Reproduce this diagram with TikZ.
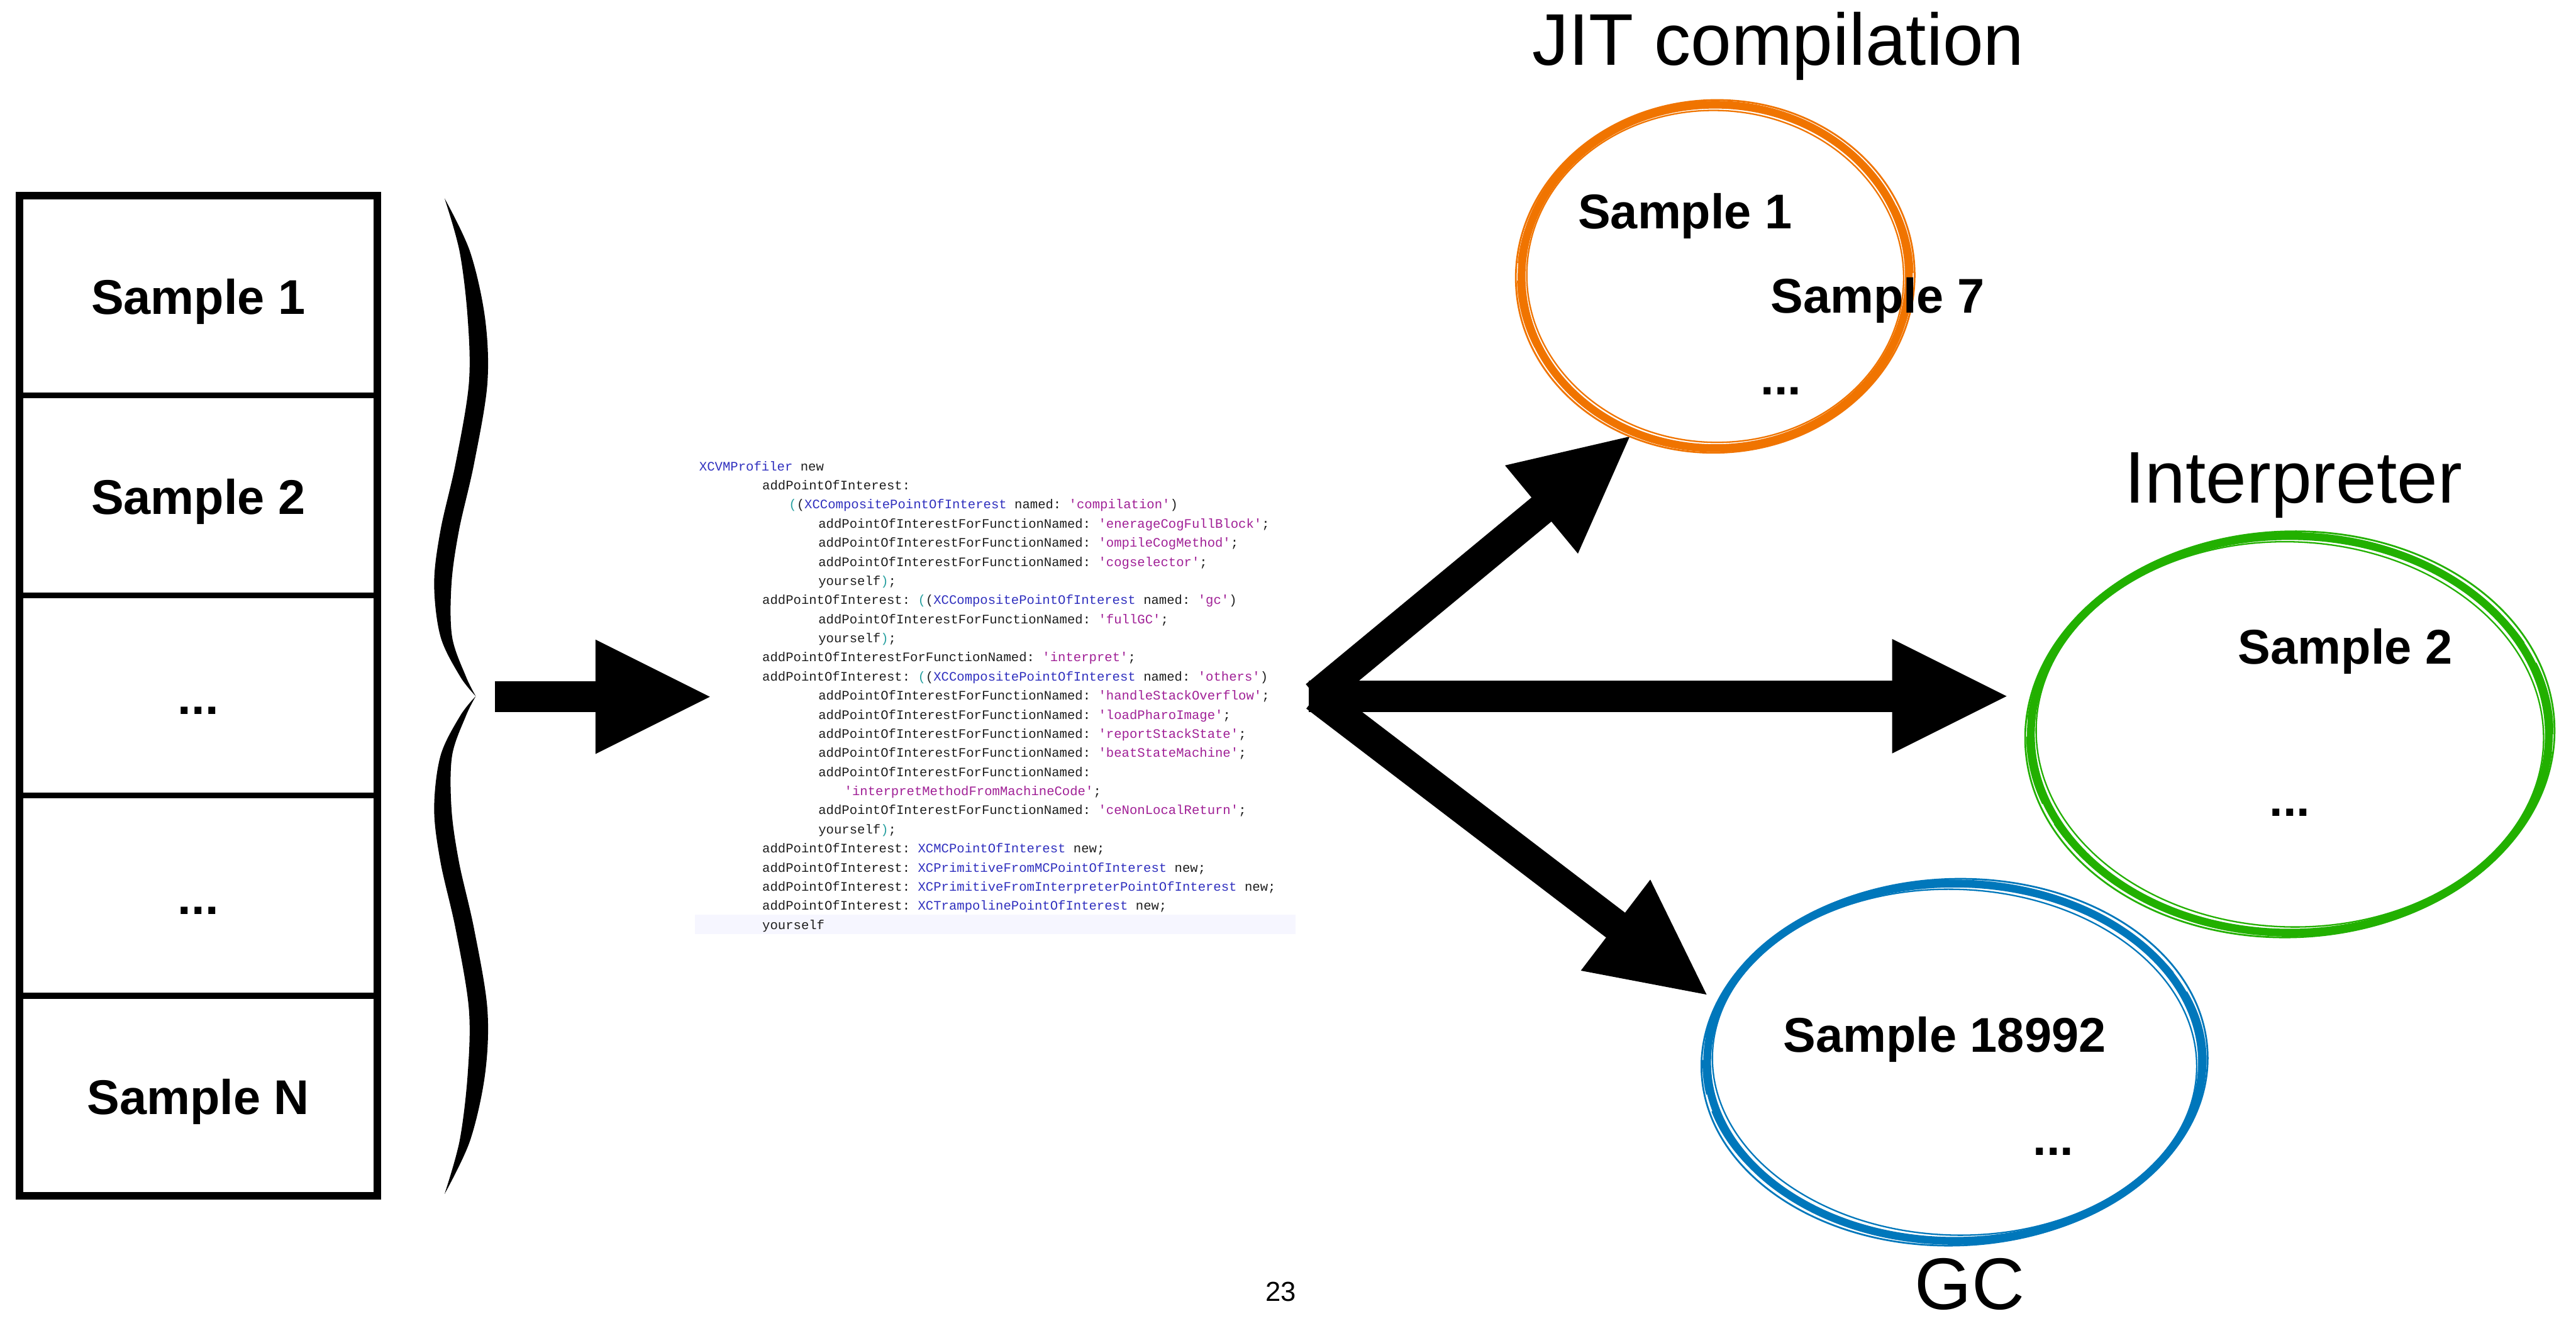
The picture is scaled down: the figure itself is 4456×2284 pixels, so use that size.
\documentclass[tikz,border=0pt]{standalone}
\usepackage{fontspec}
\setmainfont{Liberation Sans}
\setmonofont{Liberation Mono}
\usetikzlibrary{calc}
\definecolor{jitc}{RGB}{240,116,0}
\definecolor{intc}{RGB}{34,176,0}
\definecolor{gcc}{RGB}{0,119,187}
\definecolor{cblue}{RGB}{48,48,190}
\definecolor{cmag}{RGB}{160,32,150}
\definecolor{cteal}{RGB}{40,160,160}
\definecolor{ctext}{RGB}{30,30,30}
\definecolor{hlband}{RGB}{246,246,255}
\newcommand\cls[1]{\textcolor{cblue}{#1}}
\newcommand\cstr[1]{\textcolor{cmag}{#1}}
\newcommand\cpar[1]{\textcolor{cteal}{#1}}
\newcommand\brushell[4]{%
  \draw[#4, line width=1.35mm] (#1) ellipse [x radius=#2mm, y radius=#3mm];
  \draw[#4, line width=0.3mm, rotate around={2:(#1)}] (#1) ellipse [x radius=#2mm+1.0mm, y radius=#3mm+0.8mm];
  \draw[#4, line width=0.25mm, rotate around={-2:(#1)}] (#1) ellipse [x radius=#2mm-0.9mm, y radius=#3mm-1.0mm];
  \draw[#4, line width=0.4mm, dash pattern=on 12mm off 4mm on 6mm off 3mm, rotate around={1:(#1)}] (#1) ellipse [x radius=#2mm+0.6mm, y radius=#3mm-0.3mm];
}
\newcommand\fatarrow[2]{%
  \path ($(#2)!19.8mm!(#1)$) coordinate (hb);
  \path ($(#2)!19.5mm!(#1)$) coordinate (hs);
  \draw[shaft] (#1) -- (hs);
  \fill (#2) -- ($(hb)!9.9mm!90:(#2)$) -- ($(hb)!9.9mm!-90:(#2)$) -- cycle;
}
\begin{document}
\begin{tikzpicture}[x=0.1mm, y=-0.1mm,
  cell/.style={draw, line width=1mm, minimum width=61.85mm, minimum height=34.6mm,
    inner sep=0, outer sep=0, text height=6.4mm, text depth=0mm,
    font=\bfseries\fontsize{24}{28}\selectfont},
  smp/.style={inner sep=0, anchor=base west, font=\bfseries\fontsize{24}{28}\selectfont},
  ttl/.style={inner sep=0, anchor=base, font=\fontsize{36}{40}\selectfont},
  code/.style={inner sep=0, anchor=base west, font=\ttfamily\fontsize{6.38}{7.5}\selectfont, text=ctext},
  shaft/.style={line width=5.4mm}]
\useasboundingbox (0,0) rectangle (4456,2284);

% ---- sample stack ----
\node[cell] (r1) at (343,511) {Sample 1};
\node[cell] (r2) at (343,857) {Sample 2};
\node[cell] (r3) at (343,1203) {...};
\node[cell] (r4) at (343,1549) {...};
\node[cell] (r5) at (343,1895) {Sample N};
\draw[line width=1.3mm] (r1.north west) rectangle (r5.south east);

% ---- brace ----
\coordinate (brace) at (821,1204);
\fill plot[smooth, tension=0.55] coordinates {(769,343) (813,435) (839,550) (843,664) (820,802) (794,917) (781,1009) (782,1101) (806,1170) (823,1204)}
 -- plot[smooth, tension=0.55] coordinates {(823,1204) (806,1238) (782,1307) (781,1399) (794,1491) (820,1606) (843,1744) (839,1858) (813,1973) (769,2065)}
 -- plot[smooth, tension=0.55] coordinates {(769,2065) (795,1973) (809,1858) (811,1744) (788,1606) (762,1491) (751,1399) (762,1307) (796,1238) (823,1204)}
 -- plot[smooth, tension=0.55] coordinates {(823,1204) (796,1170) (762,1101) (751,1009) (762,917) (788,802) (811,664) (809,550) (795,435) (769,343)} -- cycle;

% ---- left arrow ----
\coordinate (la0) at (856,1205);
\coordinate (la1) at (1228,1205);
\fatarrow{la0}{la1}

% ---- code block ----
\fill[hlband] (1202,1582) rectangle (2241,1615);
\node[code] (c1) at (1209,814) {\cls{XCVMProfiler} new};
\node[code] (c2) at (1318,847.04) {addPointOfInterest:};
\node[code] (c3) at (1364,880.08) {\cpar{(}(\cls{XCCompositePointOfInterest} named: \cstr{'compilation'})};
\node[code] (c4) at (1415,913.12) {addPointOfInterestForFunctionNamed: \cstr{'enerageCogFullBlock'};};
\node[code] (c5) at (1415,946.16) {addPointOfInterestForFunctionNamed: \cstr{'ompileCogMethod'};};
\node[code] (c6) at (1415,979.2) {addPointOfInterestForFunctionNamed: \cstr{'cogselector'};};
\node[code] (c7) at (1415,1012.24) {yourself\cpar{)};};
\node[code] (c8) at (1318,1045.28) {addPointOfInterest: \cpar{(}(\cls{XCCompositePointOfInterest} named: \cstr{'gc'})};
\node[code] (c9) at (1415,1078.32) {addPointOfInterestForFunctionNamed: \cstr{'fullGC'};};
\node[code] (c10) at (1415,1111.36) {yourself\cpar{)};};
\node[code] (c11) at (1318,1144.4) {addPointOfInterestForFunctionNamed: \cstr{'interpret'};};
\node[code] (c12) at (1318,1177.44) {addPointOfInterest: \cpar{(}(\cls{XCCompositePointOfInterest} named: \cstr{'others'})};
\node[code] (c13) at (1415,1210.48) {addPointOfInterestForFunctionNamed: \cstr{'handleStackOverflow'};};
\node[code] (c14) at (1415,1243.52) {addPointOfInterestForFunctionNamed: \cstr{'loadPharoImage'};};
\node[code] (c15) at (1415,1276.56) {addPointOfInterestForFunctionNamed: \cstr{'reportStackState'};};
\node[code] (c16) at (1415,1309.6) {addPointOfInterestForFunctionNamed: \cstr{'beatStateMachine'};};
\node[code] (c17) at (1415,1342.64) {addPointOfInterestForFunctionNamed:};
\node[code] (c18) at (1460,1375.68) {\cstr{'interpretMethodFromMachineCode'};};
\node[code] (c19) at (1415,1408.72) {addPointOfInterestForFunctionNamed: \cstr{'ceNonLocalReturn'};};
\node[code] (c20) at (1415,1441.76) {yourself\cpar{)};};
\node[code] (c21) at (1318,1474.8) {addPointOfInterest: \cls{XCMCPointOfInterest} new;};
\node[code] (c22) at (1318,1507.84) {addPointOfInterest: \cls{XCPrimitiveFromMCPointOfInterest} new;};
\node[code] (c23) at (1318,1540.88) {addPointOfInterest: \cls{XCPrimitiveFromInterpreterPointOfInterest} new;};
\node[code] (c24) at (1318,1573.92) {addPointOfInterest: \cls{XCTrampolinePointOfInterest} new;};
\node[code] (c25) at (1318,1606.96) {yourself};

% ---- fork arrows ----
\coordinate (fork) at (2276,1204);
\coordinate (forkH) at (2264,1204);
\coordinate (tipJ) at (2819,755);
\coordinate (tipI) at (3471,1204);
\coordinate (tipG) at (2952,1720);
\fatarrow{fork}{tipJ}
\fatarrow{forkH}{tipI}
\fatarrow{fork}{tipG}

% ---- categories ----
\coordinate (jit) at (2967,478);
\coordinate (int) at (3961,1270);
\coordinate (gc) at (3381,1837);
\brushell{jit}{33.5}{29.7}{jitc}
\brushell{int}{44.8}{34.3}{intc}
\brushell{gc}{42.8}{30.9}{gcc}

\node[ttl] (tJ) at (3076,113) {JIT compilation};
\node[ttl] (tI) at (3967,870) {Interpreter};
\node[ttl] (tG) at (3407,2264) {GC};

\node[smp] (j1) at (2729,395) {Sample 1};
\node[smp] (j2) at (3062,541) {Sample 7};
\node[smp] (j3) at (3045,683) {...};
\node[smp] (i1) at (3871,1148) {Sample 2};
\node[smp] (i2) at (3925,1412) {...};
\node[smp] (g1) at (3084,1819) {Sample 18992};
\node[smp] (g2) at (3516,1998) {...};

\node[inner sep=0, anchor=base, font=\fontsize{13.5}{16}\selectfont] (pg) at (2216,2250) {23};
\end{tikzpicture}
\end{document}
